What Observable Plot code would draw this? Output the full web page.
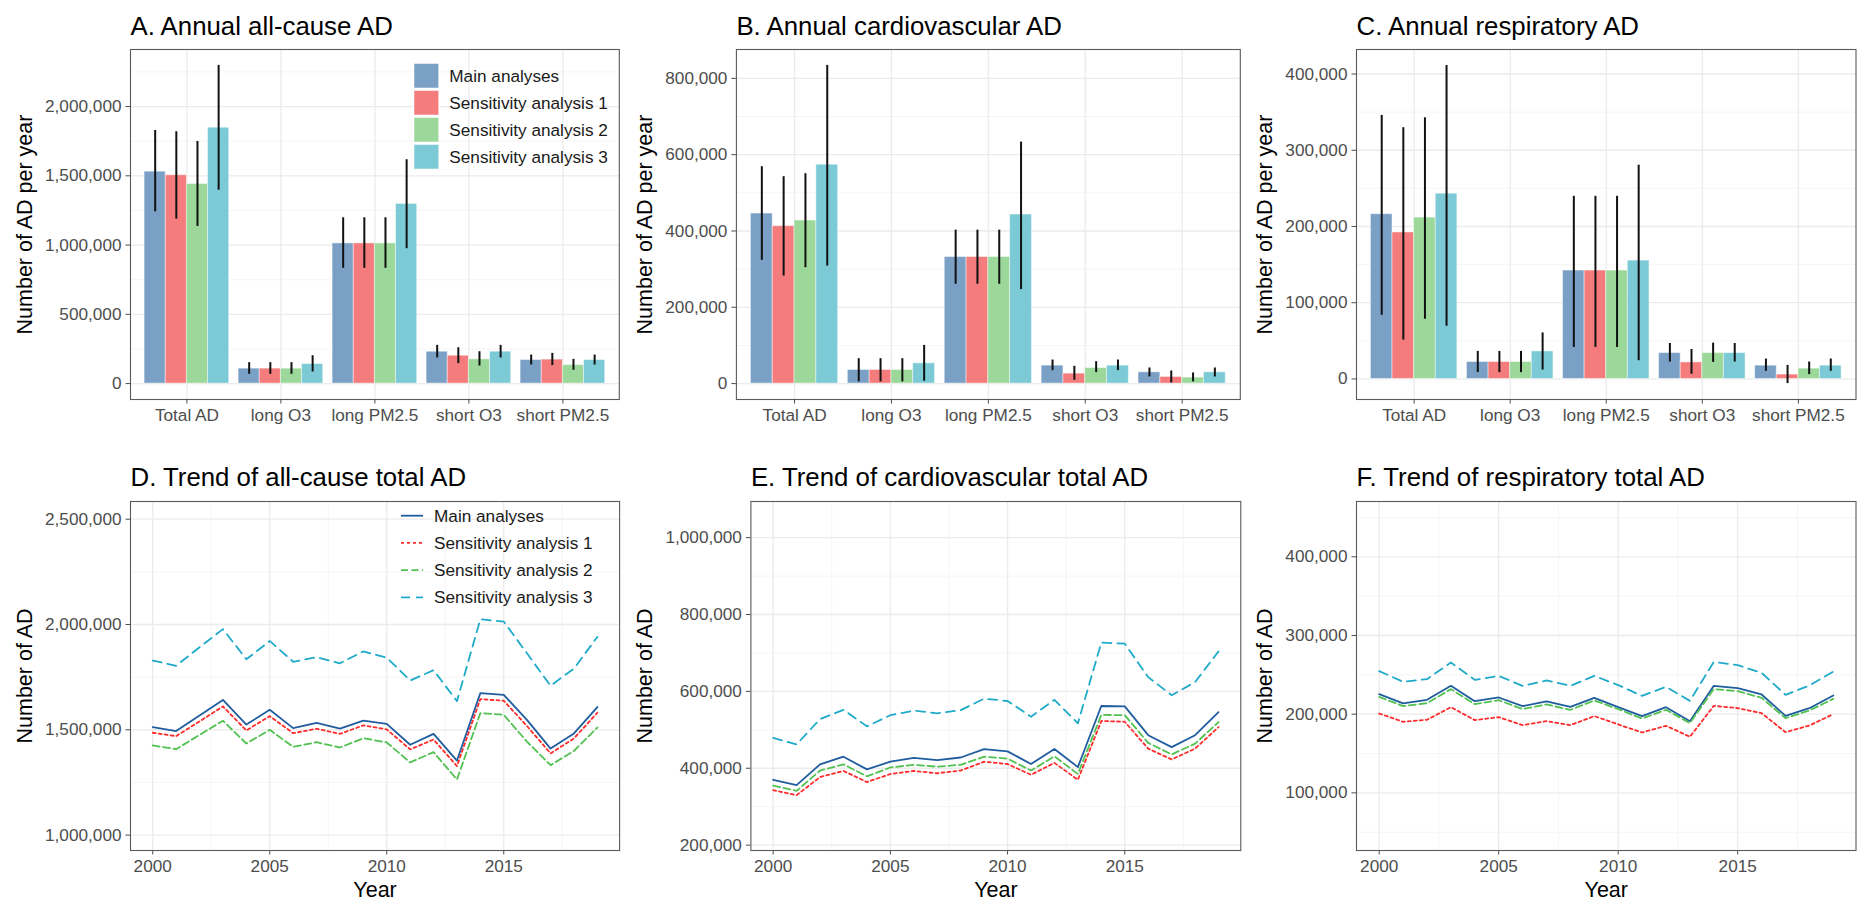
<!DOCTYPE html>
<html>
<head>
<meta charset="utf-8">
<script src="https://cdn.jsdelivr.net/npm/d3@7"></script>
<script src="https://cdn.jsdelivr.net/npm/@observablehq/plot@0.6"></script>
<style>
  html, body { margin: 0; padding: 0; background: #fff; }
  #fig { position: relative; width: 1857px; height: 901px; overflow: hidden; background: #fff; }
  #fig svg { position: absolute; overflow: visible; }
</style>
</head>
<body>
<div id="fig"></div>
<script>
// ---------- shared labels ----------
const categories = ["Total AD", "long O3", "long PM2.5", "short O3", "short PM2.5"];
const seriesNames = ["Main analyses", "Sensitivity analysis 1", "Sensitivity analysis 2", "Sensitivity analysis 3"];
const barColors = ["#7BA0C6", "#F47C7C", "#9DD89B", "#7BCAD6"];
const lineColors = ["#1F5D9E", "#FF2B2B", "#52C152", "#1FAAC9"];
const lineDashes = [null, "3,3", "7,3.5", "9,6"];

// ---------- A. annual all-cause AD (value, lower, upper) ----------
const allMain = [1530000, 108000, 1012000, 230000, 170000];
const allMainLo = [1240000, 67000, 832000, 185000, 134000];
const allMainHi = [1827000, 151000, 1197000, 276000, 206000];
const allS1 = [1504000, 108000, 1012000, 201000, 173000];
const allS1Lo = [1187000, 67000, 832000, 144000, 130000];
const allS1Hi = [1818000, 151000, 1197000, 259000, 218000];
const allS2 = [1441000, 108000, 1012000, 175000, 134000];
const allS2Lo = [1134000, 67000, 832000, 127000, 96000];
const allS2Hi = [1748000, 151000, 1197000, 230000, 175000];
const allS3 = [1847000, 141000, 1297000, 230000, 170000];
const allS3Lo = [1396000, 84000, 974000, 185000, 134000];
const allS3Hi = [2297000, 201000, 1616000, 276000, 206000];

// ---------- B. annual cardiovascular AD ----------
const cvMain = [445700, 35700, 331700, 47000, 29600];
const cvMainLo = [323000, 4400, 260300, 33900, 17400];
const cvMainHi = [568400, 65300, 402200, 61800, 40900];
const cvS1 = [412600, 35700, 331700, 26100, 17400];
const cvS1Lo = [282000, 4400, 260300, 8700, 1700];
const cvS1Hi = [542300, 65300, 402200, 45300, 33100];
const cvS2 = [427400, 35700, 331700, 40900, 15700];
const cvS2Lo = [303800, 4400, 260300, 28700, 4400];
const cvS2Hi = [550200, 65300, 402200, 57500, 27900];
const cvS3 = [573700, 53100, 443100, 47000, 29600];
const cvS3Lo = [308000, 6100, 246400, 33900, 17400];
const cvS3Hi = [834000, 100100, 632900, 61800, 40900];

// ---------- C. annual respiratory AD ----------
const rsMain = [216100, 22200, 142200, 33900, 17400];
const rsMainLo = [83500, 8300, 41300, 22200, 10000];
const rsMainHi = [345700, 36100, 239600, 46500, 26100];
const rsS1 = [192200, 22200, 142200, 21700, 5700];
const rsS1Lo = [50900, 8300, 41300, 6100, -6100];
const rsS1Hi = [329600, 36100, 239600, 38700, 17800];
const rsS2 = [211700, 22200, 142200, 33900, 13500];
const rsS2Lo = [78300, 8300, 41300, 21700, 5700];
const rsS2Hi = [342600, 36100, 239600, 47000, 22200];
const rsS3 = [243000, 36100, 155200, 33900, 17400];
const rsS3Lo = [69100, 11700, 23900, 22200, 10000];
const rsS3Hi = [411300, 60400, 280400, 46500, 26100];

// ---------- D–F. yearly totals ----------
const years = [2000, 2001, 2002, 2003, 2004, 2005, 2006, 2007, 2008, 2009,
               2010, 2011, 2012, 2013, 2014, 2015, 2016, 2017, 2018, 2019];

const trendAllMain = [1513000, 1494000, 1568000, 1642000, 1525000, 1595000, 1508000, 1533000, 1506000, 1544000, 1528000, 1429000, 1481000, 1354000, 1674000, 1666000, 1546000, 1411000, 1483000, 1608000];
const trendAllS1 = [1486000, 1470000, 1540000, 1611000, 1497000, 1565000, 1484000, 1505000, 1481000, 1521000, 1502000, 1407000, 1454000, 1328000, 1646000, 1638000, 1517000, 1388000, 1459000, 1581000];
const trendAllS2 = [1426000, 1408000, 1476000, 1543000, 1435000, 1500000, 1419000, 1441000, 1416000, 1460000, 1440000, 1345000, 1394000, 1264000, 1579000, 1571000, 1443000, 1332000, 1400000, 1511000];
const trendAllS3 = [1829000, 1804000, 1892000, 1978000, 1835000, 1922000, 1823000, 1845000, 1816000, 1872000, 1843000, 1734000, 1783000, 1636000, 2025000, 2014000, 1862000, 1709000, 1791000, 1941000];

const trendCvMain = [370000, 356000, 410000, 430000, 397000, 417000, 427000, 421000, 428000, 450000, 444000, 411000, 450000, 403000, 562000, 561000, 486000, 455000, 486000, 546000];
const trendCvS1 = [343000, 330000, 377000, 393000, 364000, 385000, 393000, 387000, 394000, 417000, 411000, 383000, 414000, 370000, 523000, 521000, 451000, 423000, 451000, 507000];
const trendCvS2 = [355000, 341000, 394000, 410000, 379000, 402000, 409000, 404000, 409000, 430000, 425000, 394000, 431000, 385000, 539000, 538000, 466000, 436000, 464000, 520000];
const trendCvS3 = [479000, 462000, 528000, 552000, 509000, 538000, 550000, 543000, 551000, 581000, 575000, 534000, 578000, 517000, 727000, 724000, 637000, 590000, 624000, 704000];

const trendRsMain = [225400, 213600, 218200, 236000, 216500, 221200, 210200, 216100, 209300, 220800, 208900, 197500, 208900, 191100, 236000, 233000, 225000, 197900, 207600, 223700];
const trendRsS1 = [200800, 190300, 192800, 208900, 192400, 196200, 186000, 191100, 186000, 197500, 186900, 176700, 185200, 171200, 210600, 207600, 201300, 177100, 185600, 200000];
const trendRsS2 = [222000, 210200, 214000, 231800, 212700, 217800, 206400, 212300, 205500, 217400, 206400, 194500, 205500, 188600, 231800, 229200, 220800, 194900, 204700, 219500];
const trendRsS3 = [254700, 241100, 244500, 265700, 243600, 248700, 236000, 242800, 236000, 248700, 236900, 223300, 234700, 216900, 266500, 262300, 252500, 224600, 236400, 254200];

// ---------- axis ticks ----------
const ticksA = [0, 500000, 1000000, 1500000, 2000000];
const minorA = [250000, 750000, 1250000, 1750000, 2250000];
const ticksB = [0, 200000, 400000, 600000, 800000];
const minorB = [100000, 300000, 500000, 700000];
const ticksC = [0, 100000, 200000, 300000, 400000];
const minorC = [50000, 150000, 250000, 350000];
const ticksD = [1000000, 1500000, 2000000, 2500000];
const minorD = [1250000, 1750000, 2250000];
const ticksE = [200000, 400000, 600000, 800000, 1000000];
const minorE = [300000, 500000, 700000, 900000];
const ticksF = [100000, 200000, 300000, 400000];
const minorF = [50000, 150000, 250000, 350000, 450000];
const yearTicks = [2000, 2005, 2010, 2015];
const yearMinor = [2002.5, 2007.5, 2012.5, 2017.5];

// ---------- styling ----------
const FONT = '"Liberation Sans", Arial, Helvetica, sans-serif';
const TICK_COLOR = "#4d4d4d";
const GRID_MAJOR = {stroke: "#EBEBEB", strokeOpacity: 1, strokeWidth: 1.3};
const GRID_MINOR = {stroke: "#F3F3F3", strokeOpacity: 1, strokeWidth: 0.8};
const fmt = d3.format(",");
const fig = document.getElementById("fig");

function place(svg, left, top) {
  svg.style.left = left + "px";
  svg.style.top = top + "px";
  fig.appendChild(svg);
  return svg;
}

function commonMarks(cfg) {
  return [
    Plot.frame({stroke: "#5a5a5a", strokeWidth: 1.1}),
    Plot.text([cfg.title], {text: d => d, frameAnchor: "top-left", dy: cfg.titleDy, lineAnchor: "bottom",
      textAnchor: "start", fontSize: 25.8, fill: "#000"}),
    Plot.text([cfg.yLabel], {text: d => d, frameAnchor: "left", rotate: -90, dx: cfg.yLabelDx,
      textAnchor: "middle", lineAnchor: "middle", fontSize: 21.5, fill: "#000"})
  ];
}

// Grouped bars with confidence intervals
function barPanel(cfg) {
  const rows = [];
  cfg.series.forEach((s, si) => s.value.forEach((v, ci) => rows.push({
    series: seriesNames[si], si, ci, value: v, lo: s.lo[ci], hi: s.hi[ci]
  })));
  const lo = Math.min(0, d3.min(rows, d => d.lo));
  const hi = d3.max(rows, d => d.hi);
  const pad = (hi - lo) * 0.05;
  const slot = 0.9 / seriesNames.length;
  const svg = Plot.plot({
    width: cfg.width, height: 440,
    marginLeft: cfg.marginLeft, marginRight: cfg.marginRight, marginTop: 49, marginBottom: 41,
    style: {fontFamily: FONT, background: "white", overflow: "visible"},
    x: {type: "linear", domain: [-0.6, categories.length - 0.4], label: null},
    y: {domain: [lo - pad, hi + pad], label: null},
    color: {domain: seriesNames, range: barColors},
    marks: [
      Plot.gridY(cfg.minor, GRID_MINOR),
      Plot.gridY(cfg.ticks, GRID_MAJOR),
      Plot.gridX(d3.range(categories.length), GRID_MAJOR),
      Plot.rect(rows, {
        x1: d => d.ci - 0.45 + d.si * slot,
        x2: d => d.ci - 0.45 + (d.si + 1) * slot,
        y1: 0, y2: "value", fill: "series",
        stroke: "white", strokeOpacity: 0.45, strokeWidth: 1
      }),
      Plot.ruleX(rows, {
        x: d => d.ci - 0.45 + (d.si + 0.5) * slot,
        y1: "lo", y2: "hi", stroke: "#111", strokeWidth: 2
      }),
      Plot.axisY(cfg.ticks, {tickFormat: fmt, tickSize: 4.5, tickPadding: 4.5, fontSize: 17.2,
        color: TICK_COLOR, label: null}),
      Plot.axisX(d3.range(categories.length), {tickFormat: i => categories[i], tickSize: 4.5,
        tickPadding: 4.5, fontSize: 17.2, color: TICK_COLOR, label: null}),
      ...commonMarks(cfg)
    ]
  });
  return place(svg, cfg.left, 0);
}

// Yearly trend lines, one line per analysis
function linePanel(cfg) {
  const lineMarks = cfg.series.map((vals, si) => Plot.line(
    years.map((yr, i) => ({year: yr, value: vals[i]})),
    {x: "year", y: "value", stroke: lineColors[si], strokeWidth: 1.8,
     strokeDasharray: lineDashes[si] ?? undefined, strokeLinejoin: "round"}
  ));
  const svg = Plot.plot({
    width: cfg.width, height: 451,
    marginLeft: cfg.marginLeft, marginRight: cfg.marginRight, marginTop: 51, marginBottom: 51,
    style: {fontFamily: FONT, background: "white", overflow: "visible"},
    x: {domain: [years[0] - 0.95, years[years.length - 1] + 0.95], label: null},
    y: {domain: cfg.domain, label: null},
    marks: [
      Plot.gridY(cfg.minor, GRID_MINOR),
      Plot.gridX(yearMinor, GRID_MINOR),
      Plot.gridY(cfg.ticks, GRID_MAJOR),
      Plot.gridX(yearTicks, GRID_MAJOR),
      ...lineMarks,
      Plot.axisY(cfg.ticks, {tickFormat: fmt, tickSize: 4.5, tickPadding: 4.5, fontSize: 17.2,
        color: TICK_COLOR, label: null}),
      Plot.axisX(yearTicks, {tickFormat: d => String(d), tickSize: 4.5, tickPadding: 4.5,
        fontSize: 17.2, color: TICK_COLOR, label: null}),
      Plot.text(["Year"], {text: d => d, frameAnchor: "bottom", dy: 46, lineAnchor: "bottom",
        textAnchor: "middle", fontSize: 21.5, fill: "#000"}),
      ...commonMarks(cfg)
    ]
  });
  return place(svg, cfg.left, 450);
}

// ---------- top row ----------
const svgA = barPanel({
  left: 0, width: 625, marginLeft: 130, marginRight: 6.2,
  title: "A. Annual all-cause AD", titleDy: -15, yLabel: "Number of AD per year", yLabelDx: -105.3,
  ticks: ticksA, minor: minorA,
  series: [
    {value: allMain, lo: allMainLo, hi: allMainHi},
    {value: allS1, lo: allS1Lo, hi: allS1Hi},
    {value: allS2, lo: allS2Lo, hi: allS2Hi},
    {value: allS3, lo: allS3Lo, hi: allS3Hi}
  ]
});
barPanel({
  left: 625, width: 620, marginLeft: 110.9, marginRight: 5.2,
  title: "B. Annual cardiovascular AD", titleDy: -15, yLabel: "Number of AD per year", yLabelDx: -91.2,
  ticks: ticksB, minor: minorB,
  series: [
    {value: cvMain, lo: cvMainLo, hi: cvMainHi},
    {value: cvS1, lo: cvS1Lo, hi: cvS1Hi},
    {value: cvS2, lo: cvS2Lo, hi: cvS2Hi},
    {value: cvS3, lo: cvS3Lo, hi: cvS3Hi}
  ]
});
barPanel({
  left: 1245, width: 612, marginLeft: 111, marginRight: 1.5,
  title: "C. Annual respiratory AD", titleDy: -15, yLabel: "Number of AD per year", yLabelDx: -91.3,
  ticks: ticksC, minor: minorC,
  series: [
    {value: rsMain, lo: rsMainLo, hi: rsMainHi},
    {value: rsS1, lo: rsS1Lo, hi: rsS1Hi},
    {value: rsS2, lo: rsS2Lo, hi: rsS2Hi},
    {value: rsS3, lo: rsS3Lo, hi: rsS3Hi}
  ]
});

// ---------- bottom row ----------
const svgD = linePanel({
  left: 0, width: 625, marginLeft: 130, marginRight: 5.9,
  title: "D. Trend of all-cause total AD", titleDy: -16, yLabel: "Number of AD", yLabelDx: -105.5,
  domain: [927000, 2584000], ticks: ticksD, minor: minorD,
  series: [trendAllMain, trendAllS1, trendAllS2, trendAllS3]
});
linePanel({
  left: 625, width: 620, marginLeft: 125.4, marginRight: 4.7,
  title: "E. Trend of cardiovascular total AD", titleDy: -16, yLabel: "Number of AD", yLabelDx: -105.7,
  domain: [186000, 1094000], ticks: ticksE, minor: minorE,
  series: [trendCvMain, trendCvS1, trendCvS2, trendCvS3]
});
linePanel({
  left: 1245, width: 612, marginLeft: 111, marginRight: 1.5,
  title: "F. Trend of respiratory total AD", titleDy: -16, yLabel: "Number of AD", yLabelDx: -91.3,
  domain: [26700, 470300], ticks: ticksF, minor: minorF,
  series: [trendRsMain, trendRsS1, trendRsS2, trendRsS3]
});

// ---------- legends drawn inside panels A and D ----------
{
  const g = d3.select(svgA).append("g").attr("font-family", FONT).attr("font-size", 17.2)
    .attr("text-anchor", "start");
  seriesNames.forEach((name, i) => {
    const top = 63.5 + i * 27;
    g.append("rect").attr("x", 414).attr("y", top).attr("width", 24.7).attr("height", 24.5)
      .attr("fill", barColors[i]).attr("stroke", "white").attr("stroke-opacity", 0.5).attr("stroke-width", 1);
    g.append("text").attr("x", 449.3).attr("y", top + 12.25).attr("dy", "0.35em")
      .attr("text-anchor", "start").attr("fill", "#1a1a1a").text(name);
  });
}
{
  const g = d3.select(svgD).append("g").attr("font-family", FONT).attr("font-size", 17.2)
    .attr("text-anchor", "start");
  seriesNames.forEach((name, i) => {
    const y = 65.7 + i * 27.2;
    g.append("line").attr("x1", 401).attr("x2", 423).attr("y1", y).attr("y2", y)
      .attr("stroke", lineColors[i]).attr("stroke-width", 1.8)
      .attr("stroke-dasharray", lineDashes[i]);
    g.append("text").attr("x", 434).attr("y", y).attr("dy", "0.35em")
      .attr("text-anchor", "start").attr("fill", "#1a1a1a").text(name);
  });
}
</script>
</body>
</html>
